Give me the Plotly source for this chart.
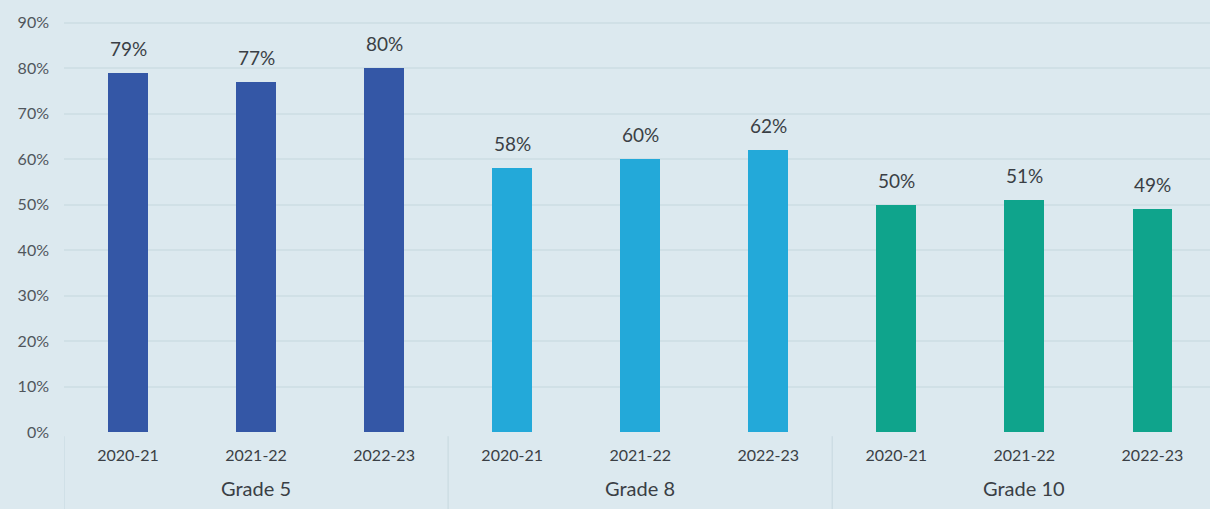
import plotly.graph_objects as go

groups = ["Grade 5", "Grade 8", "Grade 10"]
years = ["2020-21", "2021-22", "2022-23"]
values = {
    "Grade 5": [79, 77, 80],
    "Grade 8": [58, 60, 62],
    "Grade 10": [50, 51, 49],
}
colors = {"Grade 5": "#3457a6", "Grade 8": "#23a9d9", "Grade 10": "#0fa48c"}
y_ticks = [0, 10, 20, 30, 40, 50, 60, 70, 80, 90]

fig = go.Figure()
tickvals, ticktext = [], []
for gi, g in enumerate(groups):
    xs = [gi * 3 + i for i in range(len(years))]
    tickvals += xs
    ticktext += years
    fig.add_trace(go.Bar(
        x=xs, y=values[g], marker=dict(color=colors[g], line=dict(width=0)),
        width=0.31, showlegend=False, hoverinfo="skip",
    ))
    for x, v in zip(xs, values[g]):
        fig.add_annotation(x=x, y=v, xref="x", yref="y", yanchor="bottom", yshift=11,
                           text=f"{v}%", showarrow=False,
                           font=dict(family="Lato", size=19, color="#3a3f45"))
    fig.add_annotation(x=gi * 3 + 1, y=0, xref="x", yref="paper", yshift=-70,
                       text=g, showarrow=False,
                       font=dict(family="Lato", size=20, color="#3a3f45"))

for b in [-0.5, 2.5, 5.5]:
    fig.add_shape(type="line", xref="x", yref="paper", x0=b, x1=b, y0=-0.2, y1=-0.01,
                  line=dict(color="#cddde4", width=1.5))

fig.update_layout(
    width=1210, height=509,
    margin=dict(l=64, r=0, t=10, b=77),
    paper_bgcolor="#dce9ef", plot_bgcolor="#dce9ef",
    bargap=0,
    xaxis=dict(tickvals=tickvals, ticktext=ticktext, range=[-0.5, 8.45],
               showgrid=False, zeroline=False, showline=False, ticks="",
               ticklabelstandoff=12,
               tickfont=dict(family="Lato", size=16, color="#3a3f45")),
    yaxis=dict(range=[0, 92.75], tickvals=y_ticks, ticktext=[f"{v}%" for v in y_ticks],
               showgrid=True, gridcolor="#d0e0e6", gridwidth=1.5, zeroline=False,
               tickfont=dict(family="Lato", size=16, color="#50565c"), ticks="",
               ticklabelstandoff=14),
)

fig.write_html("out.html", config={"displayModeBar": False},
               post_script="document.body.style.margin='0';")
